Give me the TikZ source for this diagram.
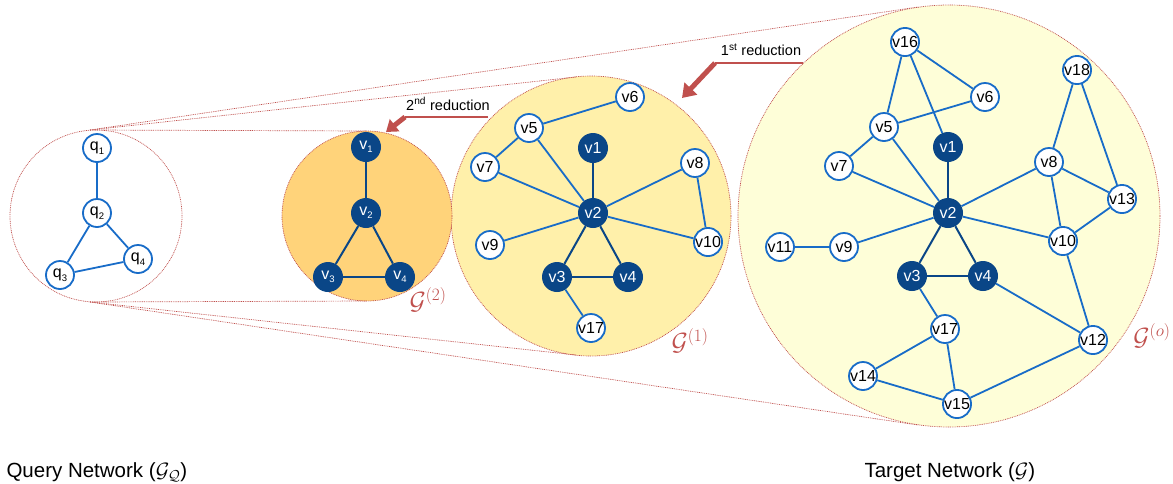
\documentclass[tikz,border=0pt]{standalone}
\usepackage{fontspec}
\setmainfont{Liberation Sans}
\usetikzlibrary{arrows.meta}
\definecolor{eblue}{RGB}{24,108,200}
\definecolor{navy}{RGB}{10,70,135}
\definecolor{dred}{RGB}{192,80,77}
\definecolor{fillA}{RGB}{255,211,122}
\definecolor{fillB}{RGB}{255,240,170}
\definecolor{fillC}{RGB}{254,254,216}
\tikzset{
  bigc/.style={circle, draw=dred, line width=0.7pt, dash pattern=on 0.9pt off 0.9pt, inner sep=0pt, outer sep=0pt},
  dotl/.style={draw=dred, line width=0.7pt, dash pattern=on 0.9pt off 0.9pt},
  wnode/.style={circle, draw=eblue, line width=1.8pt, fill=white, minimum size=28pt, inner sep=0pt, font=\fontsize{16}{18}\selectfont},
  dnode/.style={circle, fill=navy, text=white, minimum size=30pt, inner sep=0pt, font=\fontsize{16}{18}\selectfont},
  ed/.style={draw=eblue, line width=1.8pt},
  dk/.style={draw=navy, line width=2pt},
  glab/.style={text=dred, font=\fontsize{24}{26}\selectfont},
  redtxt/.style={font=\fontsize{14.5}{16}\selectfont},
  bottxt/.style={font=\fontsize{20.5}{24}\selectfont, anchor=base west},
  redline/.style={draw=dred, line width=2pt},
  redarrow/.style={draw=dred, line width=5pt, -{Triangle[length=13pt,width=17pt]}}
}
\newcommand{\subn}[2]{#1\raisebox{-3.5pt}{\fontsize{9.5}{10}\selectfont #2}}
\begin{document}
\begin{tikzpicture}[x=1pt,y=-1pt]
\useasboundingbox (0,0) rectangle (1173,483);
% big circles
\node[bigc, fill=fillC, minimum size=422pt] (C0) at (949,216) {};
\node[bigc, fill=fillB, minimum size=280pt] (C1) at (591,216) {};
\node[bigc, fill=fillA, minimum size=170pt] (C2) at (367,216) {};
\node[bigc, minimum size=172pt] (CQ) at (96,216) {};
% tangent points
\coordinate (t0a) at (918,7);
\coordinate (t0b) at (918,425);
\coordinate (t1a) at (576,77);
\coordinate (t1b) at (576,355);
\coordinate (qa) at (90,130);
\coordinate (qb) at (90,302);
\coordinate (t2a) at (367,131);
\coordinate (t2b) at (367,301);
\draw[dotl] (qa) -- (t0a);
\draw[dotl] (qa) -- (t1a);
\draw[dotl] (qa) -- (t2a);
\draw[dotl] (qb) -- (t0b);
\draw[dotl] (qb) -- (t1b);
\draw[dotl] (qb) -- (t2b);

% labels G
\node[glab] (L2) at (428,300) {$\mathcal{G}^{(2)}$};
\node[glab] (L1) at (690,341) {$\mathcal{G}^{(1)}$};
\node[glab] (L0) at (1152,336) {$\mathcal{G}^{(o)}$};

% reduction arrows
\coordinate (r1a) at (803,63);
\coordinate (r1b) at (715,63);
\coordinate (r1c) at (682,98);
\draw[redline] (r1a) -- (r1b);
\draw[redarrow] (r1b) -- (r1c);
\node[redtxt] (R1) at (761,50) {1\textsuperscript{st} reduction};
\coordinate (r2a) at (488,117);
\coordinate (r2b) at (405,117);
\coordinate (r2c) at (386,132);
\draw[redline] (r2a) -- (r2b);
\draw[redline, line width=5pt, -{Triangle[length=11pt,width=15pt]}] (r2b) -- (r2c);
\node[redtxt] (R2) at (448,104) {2\textsuperscript{nd} reduction};

% query graph
\node[wnode] (q1) at (97,148) {\subn{q}{1}};
\node[wnode] (q2) at (97,213) {\subn{q}{2}};
\node[wnode] (q3) at (60,275) {\subn{q}{3}};
\node[wnode] (q4) at (138,259) {\subn{q}{4}};
\draw[ed] (q1) -- (q2);
\draw[ed] (q2) -- (q3);
\draw[ed] (q2) -- (q4);
\draw[ed] (q3) -- (q4);

% G2
\node[dnode] (b1) at (366,147) {\subn{v}{1}};
\node[dnode] (b2) at (366,213) {\subn{v}{2}};
\node[dnode] (b3) at (328,277) {\subn{v}{3}};
\node[dnode] (b4) at (400,277) {\subn{v}{4}};
\draw[dk] (b1) -- (b2);
\draw[dk] (b2) -- (b3);
\draw[dk] (b2) -- (b4);
\draw[dk] (b3) -- (b4);

% G1
\node[wnode] (c6) at (630,97) {v6};
\node[wnode] (c5) at (529,128) {v5};
\node[dnode] (c1) at (593,148) {v1};
\node[wnode] (c7) at (485,167) {v7};
\node[wnode] (c8) at (695,163) {v8};
\node[dnode] (c2) at (593,213) {v2};
\node[wnode] (c10) at (708,242) {v10};
\node[wnode] (c9) at (490,245) {v9};
\node[dnode] (c3) at (557,277) {v3};
\node[dnode] (c4) at (628,277) {v4};
\node[wnode] (c17) at (591,328) {v17};
\draw[ed] (c5) -- (c6);
\draw[ed] (c5) -- (c7);
\draw[ed] (c5) -- (c2);
\draw[ed] (c7) -- (c2);
\draw[ed] (c8) -- (c2);
\draw[ed] (c8) -- (c10);
\draw[ed] (c10) -- (c2);
\draw[ed] (c9) -- (c2);
\draw[ed] (c3) -- (c17);
\draw[dk] (c1) -- (c2);
\draw[dk] (c2) -- (c3);
\draw[dk] (c2) -- (c4);
\draw[dk] (c3) -- (c4);

% G0
\node[wnode] (d16) at (905,42) {v16};
\node[wnode] (d18) at (1077,70) {v18};
\node[wnode] (d6) at (985,97) {v6};
\node[wnode] (d5) at (884,127) {v5};
\node[dnode] (d1) at (948,147) {v1};
\node[wnode] (d7) at (839,166) {v7};
\node[wnode] (d8) at (1049,162) {v8};
\node[wnode] (d13) at (1122,199) {v13};
\node[dnode] (d2) at (948,213) {v2};
\node[wnode] (d10) at (1063,241) {v10};
\node[wnode] (d11) at (780,247) {v11};
\node[wnode] (d9) at (844,247) {v9};
\node[dnode] (d3) at (912,276) {v3};
\node[dnode] (d4) at (983,276) {v4};
\node[wnode] (d17) at (945,329) {v17};
\node[wnode] (d12) at (1093,340) {v12};
\node[wnode] (d14) at (863,376) {v14};
\node[wnode] (d15) at (957,404) {v15};
\draw[ed] (d16) -- (d5);
\draw[ed] (d16) -- (d6);
\draw[ed] (d16) -- (d1);
\draw[ed] (d6) -- (d5);
\draw[ed] (d5) -- (d7);
\draw[ed] (d5) -- (d2);
\draw[ed] (d7) -- (d2);
\draw[ed] (d8) -- (d2);
\draw[ed] (d10) -- (d2);
\draw[ed] (d9) -- (d2);
\draw[ed] (d11) -- (d9);
\draw[ed] (d18) -- (d8);
\draw[ed] (d18) -- (d13);
\draw[ed] (d8) -- (d13);
\draw[ed] (d8) -- (d10);
\draw[ed] (d13) -- (d10);
\draw[ed] (d10) -- (d12);
\draw[ed] (d4) -- (d12);
\draw[ed] (d3) -- (d17);
\draw[ed] (d17) -- (d14);
\draw[ed] (d17) -- (d15);
\draw[ed] (d14) -- (d15);
\draw[ed] (d15) -- (d12);
\draw[dk] (d1) -- (d2);
\draw[dk] (d2) -- (d3);
\draw[dk] (d2) -- (d4);
\draw[dk] (d3) -- (d4);

% bottom labels
\node[bottxt] (QN) at (3,477) {Query Network ($\mathcal{G}_{\mathcal{Q}}$)};
\node[bottxt] (TN) at (861,477) {Target Network ($\mathcal{G}$)};
\end{tikzpicture}
\end{document}
